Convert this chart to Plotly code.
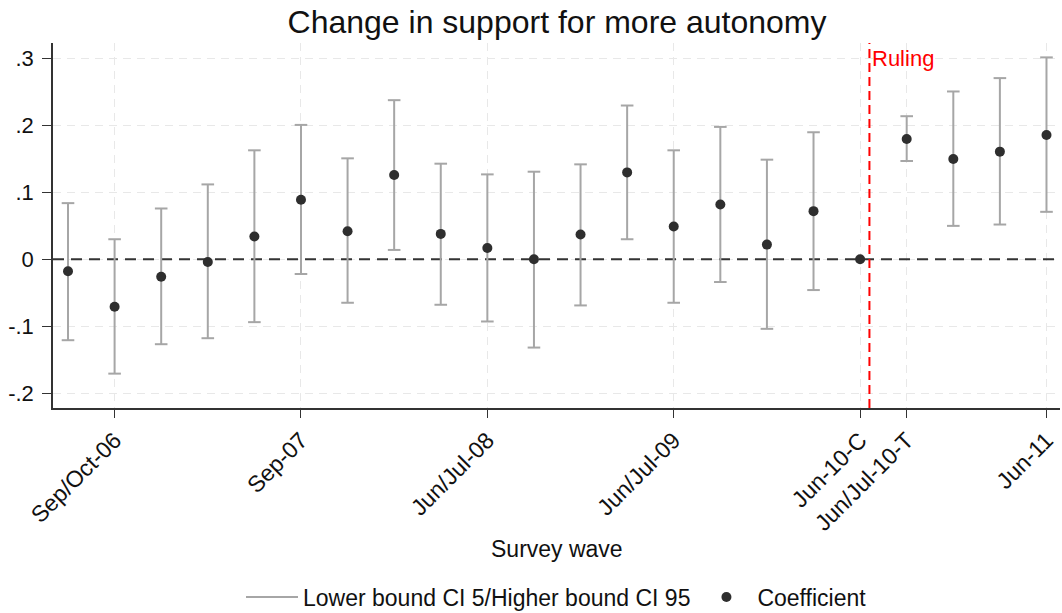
import plotly.graph_objects as go

# ---- data ----
wave = list(range(1, 23))
coef = [-0.018, -0.071, -0.026, -0.004, 0.034, 0.089, 0.042, 0.126, 0.038, 0.017, 0.000,
        0.037, 0.130, 0.049, 0.082, 0.022, 0.072, 0.000, 0.180, 0.150, 0.161, 0.186]
ci_low = [-0.121, -0.171, -0.127, -0.118, -0.094, -0.022, -0.065, 0.014, -0.068, -0.093, -0.132,
          -0.069, 0.030, -0.065, -0.034, -0.104, -0.046, 0.000, 0.147, 0.050, 0.052, 0.071]
ci_high = [0.084, 0.030, 0.076, 0.112, 0.163, 0.201, 0.151, 0.238, 0.143, 0.127, 0.131,
           0.142, 0.230, 0.163, 0.198, 0.149, 0.190, 0.000, 0.214, 0.251, 0.271, 0.302]
tick_pos = [2, 6, 10, 14, 18, 19, 22]
tick_labels = ["Sep/Oct-06", "Sep-07", "Jun/Jul-08", "Jun/Jul-09", "Jun-10-C", "Jun/Jul-10-T", "Jun-11"]
y_ticks = [-0.2, -0.1, 0, 0.1, 0.2, 0.3]
y_tick_labels = ["-.2", "-.1", "0", ".1", ".2", ".3"]
ruling_x = 18.2
x_range = [0.678, 22.29]
y_range = [-0.2224, 0.3235]

FONT = "Liberation Sans, Arial, sans-serif"
GRAY = "#a6a6a6"
DOT = "#2e2e2e"

# CI segments
xs, ys, cx, cy = [], [], [], []
for w, lo, hi in zip(wave, ci_low, ci_high):
    if hi == lo:
        continue
    xs += [w, w, None]
    ys += [lo, hi, None]
    cx += [w, w]
    cy += [lo, hi]

fig = go.Figure()
# zero reference line (drawn first so markers sit on top)
fig.add_trace(go.Scatter(x=x_range, y=[0, 0], mode="lines", showlegend=False, hoverinfo="skip",
                         line=dict(color="#333333", width=2, dash="11px,7px")))
fig.add_trace(go.Scatter(x=xs, y=ys, mode="lines", line=dict(color=GRAY, width=2),
                         name="Lower bound CI 5/Higher bound CI 95", hoverinfo="skip"))
fig.add_trace(go.Scatter(x=cx, y=cy, mode="markers", showlegend=False, hoverinfo="skip",
                         marker=dict(symbol="line-ew", size=9, line=dict(color=GRAY, width=2))))
fig.add_trace(go.Scatter(x=wave, y=coef, mode="markers", name="Coefficient",
                         marker=dict(color=DOT, size=10)))

# ruling line
fig.add_shape(type="line", xref="x", x0=ruling_x, x1=ruling_x, yref="paper", y0=0, y1=1,
              line=dict(color="#ff0000", width=2, dash="9px,5px"))
fig.add_annotation(x=ruling_x, y=0.3, xref="x", yref="y", text="Ruling", showarrow=False,
                   xanchor="left", yanchor="middle", xshift=1,
                   font=dict(family=FONT, size=22, color="#ff0000"))

fig.add_annotation(x=0.5, y=-0.386, xref="paper", yref="paper", text="Survey wave", showarrow=False,
                   xanchor="center", yanchor="middle", font=dict(family=FONT, size=23, color="#111"))

fig.update_layout(
    width=1062, height=613,
    margin=dict(l=53, r=2, t=43, b=205, autoexpand=False),
    paper_bgcolor="white", plot_bgcolor="white",
    font=dict(family=FONT, color="#111"),
    title=dict(text="Change in support for more autonomy", x=0.5245, xanchor="center",
               y=0.964, yanchor="middle", font=dict(family=FONT, size=32, color="#111")),
    showlegend=True,
    legend=dict(orientation="h", x=0.5, xanchor="center", y=-0.518, yanchor="middle",
                font=dict(family=FONT, size=23, color="#111"), itemwidth=52,
                tracegroupgap=0),
)
fig.update_xaxes(range=x_range, tickvals=tick_pos, ticktext=tick_labels, tickangle=-45,
                 showline=True, linecolor="#333", linewidth=1.5, ticks="outside", ticklen=8,
                 tickcolor="#333", showgrid=True, gridcolor="#e8e8e8", griddash="8px,6px", gridwidth=1,
                 zeroline=False, tickfont=dict(family=FONT, size=23, color="#111"), automargin=False)
fig.update_yaxes(range=y_range, tickvals=y_ticks, ticktext=y_tick_labels,
                 showline=True, linecolor="#333", linewidth=1.5, ticks="outside", ticklen=9,
                 tickcolor="#333", showgrid=True, gridcolor="#e8e8e8", griddash="8px,6px", gridwidth=1,
                 zeroline=False, tickfont=dict(family=FONT, size=22, color="#111"), automargin=False,
                 ticklabelstandoff=4)

fig.write_html("out.html", config={"displayModeBar": False},
               post_script="document.body.style.margin='0';document.body.style.overflow='hidden';")
